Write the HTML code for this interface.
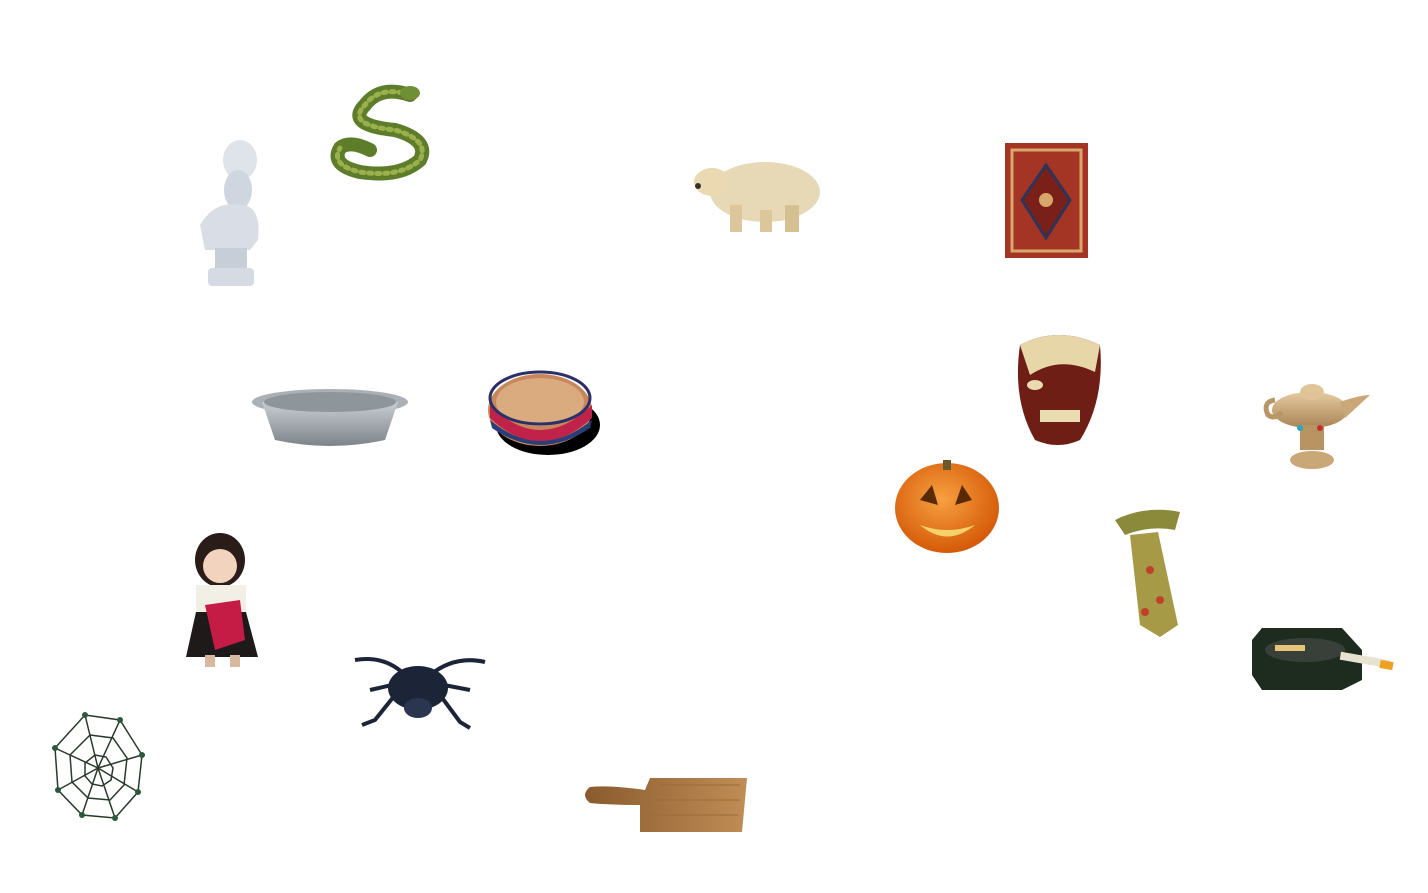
<!DOCTYPE html>
<html><head><meta charset="utf-8"><style>
html,body{margin:0;padding:0;background:#fff;width:1428px;height:893px;overflow:hidden}
svg{display:block}
</style></head><body>
<svg width="1428" height="893" viewBox="0 0 1428 893">
<defs>
<radialGradient id="pump" cx="45%" cy="40%" r="60%"><stop offset="0" stop-color="#f7a040"/><stop offset="1" stop-color="#d55a08"/></radialGradient>
<linearGradient id="pan" x1="0" y1="0" x2="0" y2="1"><stop offset="0" stop-color="#c9ced3"/><stop offset="1" stop-color="#7d8489"/></linearGradient>
<linearGradient id="wood" x1="0" y1="0" x2="1" y2="0"><stop offset="0" stop-color="#8a5a2e"/><stop offset="1" stop-color="#c08d55"/></linearGradient>
<linearGradient id="gold" x1="0" y1="0" x2="0" y2="1"><stop offset="0" stop-color="#e6caa0"/><stop offset="1" stop-color="#a98557"/></linearGradient>
</defs>

<g>
<ellipse cx="240" cy="160" rx="17" ry="20" fill="#dfe3ea"/>
<ellipse cx="238" cy="190" rx="14" ry="20" fill="#cfd6e0"/>
<path d="M200 225 Q215 200 240 205 Q262 205 258 240 L250 250 L205 250 Z" fill="#d9dee6"/>
<rect x="215" y="248" width="32" height="22" fill="#c8ced8"/>
<rect x="208" y="268" width="46" height="18" rx="4" fill="#d6dbe3"/>
</g>

<g fill="none" stroke-linecap="round">
<path d="M410 95 Q380 85 365 105 Q345 125 395 130 Q430 140 420 160 Q400 178 360 172 Q330 165 340 148 Q350 140 370 150" stroke="#5e7d2a" stroke-width="14"/>
<path d="M410 95 Q380 85 365 105 Q345 125 395 130 Q430 140 420 160 Q400 178 360 172 Q330 165 340 148" stroke="#9bb04c" stroke-width="5" stroke-dasharray="3 5"/>
<ellipse cx="410" cy="93" rx="10" ry="7" fill="#6e8f33"/>
</g>

<g>
<ellipse cx="765" cy="192" rx="55" ry="30" fill="#e7d9b6"/>
<ellipse cx="712" cy="182" rx="18" ry="14" fill="#ead9b1"/>
<rect x="730" y="205" width="12" height="27" fill="#dbc79b"/>
<rect x="760" y="210" width="12" height="22" fill="#dbc79b"/>
<rect x="785" y="205" width="14" height="27" fill="#d5c092"/>
<circle cx="698" cy="186" r="3" fill="#333"/>
</g>

<g>
<rect x="1005" y="143" width="83" height="115" fill="#a43424"/>
<rect x="1012" y="150" width="69" height="101" fill="none" stroke="#d7a86a" stroke-width="3"/>
<polygon points="1046,165 1070,200 1046,238 1022,200" fill="#7a2018" stroke="#2e3458" stroke-width="3"/>
<circle cx="1046" cy="200" r="7" fill="#d7a86a"/>
</g>

<g>
<ellipse cx="330" cy="402" rx="78" ry="13" fill="#a9b0b6"/>
<path d="M262 402 L275 440 Q330 452 385 440 L398 402 Z" fill="url(#pan)"/>
<ellipse cx="330" cy="402" rx="66" ry="10" fill="#8e959b"/>
</g>

<g>
<ellipse cx="548" cy="425" rx="52" ry="30" fill="#000"/>
<ellipse cx="540" cy="410" rx="52" ry="36" fill="#c8875a"/>
<path d="M490 405 Q540 455 592 405 L592 418 Q540 465 490 418 Z" fill="#c0224a"/>
<path d="M490 420 Q540 462 592 420 L590 428 Q540 462 492 428 Z" fill="#2a3e7a"/>
<ellipse cx="540" cy="402" rx="44" ry="24" fill="#d9ab7e"/>
<ellipse cx="540" cy="398" rx="50" ry="26" fill="none" stroke="#2b2f6a" stroke-width="3"/>
</g>

<g>
<path d="M1020 345 Q1058 325 1100 345 Q1105 400 1080 440 Q1058 450 1035 440 Q1012 400 1020 345 Z" fill="#6e1e14"/>
<path d="M1020 345 Q1058 325 1100 345 L1095 372 Q1060 355 1030 375 Z" fill="#e7d7a8"/>
<rect x="1040" y="410" width="40" height="12" fill="#e8dcb0"/>
<ellipse cx="1035" cy="385" rx="8" ry="5" fill="#e8dcb0"/>
</g>

<g>
<ellipse cx="1310" cy="410" rx="38" ry="18" fill="url(#gold)"/>
<path d="M1340 402 Q1360 395 1370 395 L1345 418 Z" fill="#c9a777"/>
<path d="M1275 400 Q1262 402 1268 415 Q1275 420 1282 412" fill="none" stroke="#b99666" stroke-width="5"/>
<ellipse cx="1312" cy="392" rx="12" ry="8" fill="#e0c497"/>
<rect x="1300" y="425" width="24" height="25" fill="#b89463"/>
<ellipse cx="1312" cy="460" rx="22" ry="9" fill="#c9a777"/>
<circle cx="1300" cy="428" r="3" fill="#2aa8c0"/><circle cx="1320" cy="428" r="3" fill="#c0302a"/>
</g>

<g>
<ellipse cx="947" cy="508" rx="52" ry="45" fill="url(#pump)"/>
<rect x="943" y="460" width="8" height="10" fill="#6d5a2a"/>
<polygon points="920,500 932,485 938,505" fill="#5a2a05"/>
<polygon points="955,505 962,485 972,500" fill="#5a2a05"/>
<path d="M920 525 Q947 548 975 525 Q947 535 920 525 Z" fill="#f5d36a"/>
</g>

<g>
<path d="M1115 520 Q1145 505 1180 512 L1175 530 Q1150 525 1125 535 Z" fill="#8b8a3a"/>
<polygon points="1130,535 1158,532 1178,625 1160,637 1140,625" fill="#a69a46"/>
<circle cx="1150" cy="570" r="4" fill="#c0402a"/><circle cx="1160" cy="600" r="4" fill="#c0402a"/><circle cx="1145" cy="612" r="4" fill="#c0402a"/>
</g>

<g>
<polygon points="1262,628 1342,628 1362,650 1362,680 1342,690 1262,690 1252,675 1252,640" fill="#1e2b1f"/>
<ellipse cx="1305" cy="650" rx="40" ry="12" fill="#39403a"/>
<rect x="1340" y="656" width="50" height="8" fill="#e8e2d0" transform="rotate(10 1365 660)"/>
<rect x="1380" y="661" width="13" height="8" fill="#f0a020" transform="rotate(10 1386 665)"/>
<rect x="1275" y="645" width="30" height="6" fill="#e6c47a"/>
</g>

<g>
<ellipse cx="220" cy="560" rx="25" ry="27" fill="#2a1c18"/>
<ellipse cx="220" cy="566" rx="17" ry="17" fill="#f2d3bd"/>
<rect x="196" y="585" width="50" height="30" fill="#f2efe6"/>
<path d="M196 612 L246 612 L258 657 L186 657 Z" fill="#1e1a1a"/>
<polygon points="205,605 240,600 245,640 215,650" fill="#c41c44"/>
<rect x="205" y="655" width="10" height="12" fill="#d8b89e"/><rect x="230" y="655" width="10" height="12" fill="#d8b89e"/>
</g>

<g>
<ellipse cx="418" cy="688" rx="30" ry="22" fill="#1c2438"/>
<ellipse cx="418" cy="708" rx="14" ry="10" fill="#2a3550"/>
<g stroke="#1c2438" stroke-width="4" fill="none">
<path d="M405 675 Q385 655 355 660"/><path d="M430 675 Q455 655 485 662"/>
<path d="M395 695 L375 720 L362 725"/><path d="M440 695 L460 722 L470 728"/>
<path d="M392 685 L370 690"/><path d="M444 685 L470 690"/>
</g>
</g>

<g stroke="#2a3a2a" stroke-width="1.5" fill="none">
<polygon points="85,715 120,720 142,755 138,792 115,818 82,815 58,790 55,748"/>
<polygon points="90,735 113,738 127,758 124,785 110,800 88,798 72,782 70,755"/>
<polygon points="95,755 106,757 113,768 111,780 102,786 92,784 85,776 85,763"/>
<path d="M98 768 L85 715 M98 768 L120 720 M98 768 L142 755 M98 768 L138 792 M98 768 L115 818 M98 768 L82 815 M98 768 L58 790 M98 768 L55 748"/>
<g fill="#2a5a3a" stroke="none"><circle cx="85" cy="715" r="3"/><circle cx="120" cy="720" r="3"/><circle cx="142" cy="755" r="3"/><circle cx="138" cy="792" r="3"/><circle cx="115" cy="818" r="3"/><circle cx="82" cy="815" r="3"/><circle cx="58" cy="790" r="3"/><circle cx="55" cy="748" r="3"/></g>
</g>

<g>
<path d="M650 778 L747 778 L742 832 L640 832 L640 805 Q610 805 590 803 Q580 795 590 787 Q610 785 645 790 Z" fill="url(#wood)"/>
<path d="M660 785 L740 785 M655 800 L740 800 M650 815 L738 815" stroke="#9c6b3a" stroke-width="1"/>
</g>
</svg>
</body></html>
